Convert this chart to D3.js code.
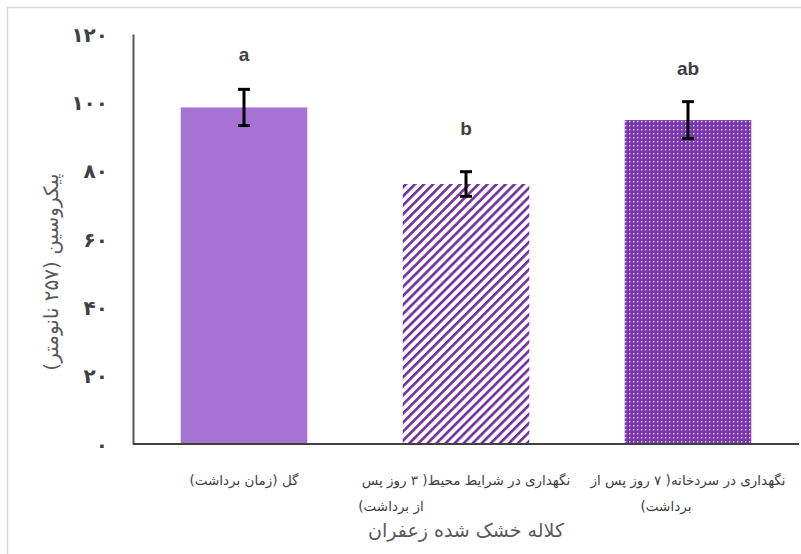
<!DOCTYPE html>
<html>
<head>
<meta charset="utf-8">
<script src="https://cdn.jsdelivr.net/npm/d3@7"></script>
<style>
  html, body { margin: 0; padding: 0; background: #fff; }
  svg { display: block; }
</style>
</head>
<body>
<svg id="chart" width="801" height="554"></svg>
<script>
// Treatments (first line / second line of each category label)
const categories = ["flower", "ambient", "cold"];
const labelLine1 = ["گل (زمان برداشت)", "نگهداری در شرایط محیط( ۳ روز پس", "نگهداری در سردخانه( ۷ روز پس از"];
const labelLine2 = ["", "از برداشت)", "برداشت)"];
// Picrocrocin absorbance (257 nm)
const means = [98.5, 76.1, 94.8];
const errors = [5.3, 3.6, 5.4];
// Significance letters and the height they sit at
const letters = ["a", "b", "ab"];
const letterHeights = [112, 90.5, 108];
const yTicks = [0, 20, 40, 60, 80, 100, 120];
const yTitle = "پیکروسین (۲۵۷ نانومتر)";
const xTitle = "کلاله خشک شده زعفران";

const toPersian = n => String(n).replace(/\d/g, d => "۰۱۲۳۴۵۶۷۸۹"[d]);

const svg = d3.select("#chart");
const fa = "'DejaVu Sans', sans-serif";

// chart frame
svg.append("path")
  .attr("d", "M7.5,554 V7.5 H801")
  .attr("fill", "none").attr("stroke", "#d9d9d9").attr("stroke-width", 1.5);

const y = d3.scaleLinear().domain([0, 120]).range([444, 34]);
const x = d3.scaleBand().domain(categories).range([133, 799])
  .paddingInner(0.43).paddingOuter(0.215);

// fill patterns
const defs = svg.append("defs");
const stripes = defs.append("pattern")
  .attr("id", "stripes").attr("patternUnits", "userSpaceOnUse")
  .attr("width", 6.4).attr("height", 6.4)
  .attr("patternTransform", "rotate(45)");
stripes.append("rect").attr("width", 6.4).attr("height", 6.4).attr("fill", "#fff");
stripes.append("rect").attr("x", 0).attr("width", 2.6).attr("height", 6.4).attr("fill", "#7030a0");

const dots = defs.append("pattern")
  .attr("id", "dots").attr("patternUnits", "userSpaceOnUse")
  .attr("width", 4).attr("height", 4);
dots.append("rect").attr("width", 4).attr("height", 4).attr("fill", "#7a36ad");
dots.append("rect").attr("x", 1).attr("y", 1).attr("width", 1.4).attr("height", 1.4).attr("fill", "#e6d6f2");

const fills = ["#a673d5", "url(#stripes)", "url(#dots)"];

// bars
svg.append("g").selectAll("rect")
  .data(categories)
  .join("rect")
  .attr("x", d => x(d))
  .attr("y", (d, i) => y(means[i]))
  .attr("width", x.bandwidth())
  .attr("height", (d, i) => y(0) - y(means[i]))
  .attr("fill", (d, i) => fills[i]);

// error bars
const eb = svg.append("g").attr("stroke", "#000").attr("stroke-width", 3);
categories.forEach((c, i) => {
  const cx = x(c) + x.bandwidth() / 2;
  const hi = y(means[i] + errors[i]), lo = y(means[i] - errors[i]);
  eb.append("line").attr("x1", cx).attr("x2", cx).attr("y1", hi).attr("y2", lo);
  eb.append("line").attr("x1", cx - 6).attr("x2", cx + 6).attr("y1", hi).attr("y2", hi);
  eb.append("line").attr("x1", cx - 6).attr("x2", cx + 6).attr("y1", lo).attr("y2", lo);
});

// significance letters
svg.append("g").selectAll("text")
  .data(categories)
  .join("text")
  .attr("x", d => x(d) + x.bandwidth() / 2)
  .attr("y", (d, i) => y(letterHeights[i]))
  .attr("text-anchor", "middle")
  .attr("font-family", "'Liberation Sans', Arial, sans-serif")
  .attr("font-weight", "bold").attr("font-size", 19)
  .attr("fill", "#404040")
  .text((d, i) => letters[i]);

// y axis
const yAxis = svg.append("g").attr("transform", "translate(133,0)")
  .call(d3.axisLeft(y).tickValues(yTicks).tickSize(0).tickPadding(25).tickFormat(toPersian));
yAxis.select(".domain").attr("stroke", "#595959").attr("stroke-width", 2);
yAxis.selectAll("text")
  .attr("font-family", fa).attr("font-weight", "bold").attr("font-size", 20)
  .attr("fill", "#404040").attr("dy", "0.35em");

// x axis baseline
svg.append("line")
  .attr("x1", 133).attr("x2", 799).attr("y1", y(0)).attr("y2", y(0))
  .attr("stroke", "#404040").attr("stroke-width", 2);

// category labels
const catG = svg.append("g")
  .attr("font-family", fa).attr("font-size", 13.5).attr("fill", "#404040")
  .attr("direction", "rtl");
catG.selectAll("text.l1")
  .data(categories).join("text").attr("class", "l1")
  .attr("x", d => x(d) + x.bandwidth() / 2)
  .attr("y", 485).attr("text-anchor", "middle")
  .text((d, i) => labelLine1[i]);
const line2Shift = [0, -75, -22];
catG.selectAll("text.l2")
  .data(categories).join("text").attr("class", "l2")
  .attr("x", (d, i) => x(d) + x.bandwidth() / 2 + line2Shift[i])
  .attr("y", 511).attr("text-anchor", "middle")
  .text((d, i) => labelLine2[i]);

// axis titles
svg.append("text")
  .attr("x", 466).attr("y", 537)
  .attr("text-anchor", "middle").attr("direction", "rtl")
  .attr("font-family", fa).attr("font-size", 19).attr("fill", "#595959")
  .text(xTitle);

svg.append("text")
  .attr("transform", "translate(58,272) rotate(-90)")
  .attr("text-anchor", "middle").attr("direction", "rtl")
  .attr("font-family", fa).attr("font-size", 20).attr("fill", "#595959")
  .text(yTitle);
</script>
</body>
</html>
